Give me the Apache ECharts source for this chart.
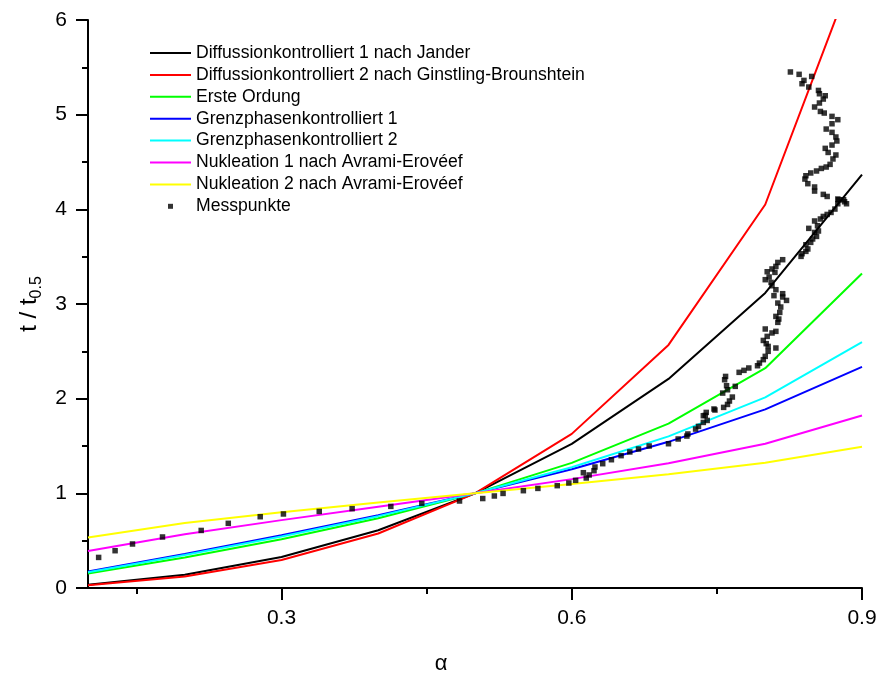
<!DOCTYPE html>
<html><head><meta charset="utf-8">
<script src="https://cdn.jsdelivr.net/npm/echarts@6/dist/echarts.min.js"></script>
<style>html,body{margin:0;padding:0;background:#fff}#c{width:877px;height:675px}</style>
</head><body><div id="c"></div>
<script>
const alphaGrid = [0.1, 0.2, 0.3, 0.4, 0.5, 0.6, 0.7, 0.8, 0.9];
const diff1Jander = [0.034, 0.140, 0.328, 0.610, 1.0, 1.522, 2.209, 3.117, 4.366];
const diff2Ginstling = [0.028, 0.121, 0.295, 0.576, 1.0, 1.628, 2.568, 4.051, 6.745];
const ersteOrdnung = [0.152, 0.322, 0.515, 0.737, 1.0, 1.322, 1.737, 2.322, 3.322];
const grenz1 = [0.175, 0.360, 0.558, 0.770, 1.0, 1.255, 1.544, 1.887, 2.335];
const grenz2 = [0.167, 0.348, 0.543, 0.759, 1.0, 1.276, 1.602, 2.013, 2.597];
const nukl1 = [0.390, 0.567, 0.717, 0.859, 1.0, 1.150, 1.318, 1.524, 1.823];
const nukl2 = [0.534, 0.686, 0.801, 0.903, 1.0, 1.098, 1.202, 1.324, 1.492];

const messAlpha = [0.111,0.128,0.146,0.177,0.217,0.245,0.278,0.302,0.339,0.373,0.413,0.445,0.484,0.508,0.520,0.529,0.550,0.565,0.585,0.597,0.604,0.615,0.618,0.612,0.623,0.624,
0.632,0.641,0.651,0.660,0.669,0.680,0.700,0.710,0.719,0.720,0.728,0.731,0.736,0.740,0.738,0.748,
0.736,0.739,0.747,0.757,0.761,0.763,0.766,0.756,0.761,0.760,0.769,0.758,0.759,0.773,0.778,0.783,0.792,0.794,0.798,0.800,0.803,0.803,0.811,0.801,0.798,0.802,0.807,0.811,0.800,0.813,0.814,
0.811,0.815,0.816,0.813,0.822,0.818,0.809,0.818,0.811,0.807,0.806,0.800,0.804,0.802,0.807,0.810,0.811,0.813,0.818,
0.837,0.838,0.842,0.844,0.842,0.847,0.849,0.853,0.851,0.855,0.845,0.854,0.851,0.857,0.860,0.864,0.868,0.872,0.875,0.884,0.881,0.875,0.864,0.860,0.851,0.876,0.882,
0.851,0.844,0.841,0.842,0.847,0.853,0.858,0.863,0.867,0.870,0.873,0.865,0.862,0.869,0.874,0.873,0.869,0.863,0.869,0.875,0.869,0.861,0.857,0.851,0.856,0.860,0.862,0.856,0.855,0.845,0.838,0.840,0.848,0.835,0.826];
const messT = [0.323,0.394,0.465,0.539,0.608,0.683,0.753,0.782,0.809,0.838,0.862,0.894,0.919,0.945,0.972,0.999,1.028,1.052,1.081,1.109,1.137,1.162,1.194,1.218,1.239,1.278,
1.313,1.355,1.398,1.437,1.468,1.500,1.524,1.574,1.605,1.627,1.679,1.707,1.749,1.770,1.823,1.880,
1.820,1.855,1.891,1.908,1.939,1.975,2.017,2.059,2.094,2.137,2.130,2.200,2.235,2.278,2.299,2.324,2.348,2.376,2.412,2.447,2.500,2.552,2.535,2.581,2.615,2.658,2.694,2.711,2.736,2.806,2.841,
2.869,2.911,2.968,3.010,3.038,3.074,3.088,3.109,3.151,3.193,3.228,3.257,3.285,3.341,3.370,3.334,3.397,3.439,3.468,
3.503,3.531,3.556,3.581,3.626,3.651,3.687,3.714,3.756,3.771,3.799,3.827,3.877,3.898,3.925,3.946,3.967,4.003,4.059,4.059,4.101,4.109,4.136,4.158,4.193,4.101,4.080,
4.236,4.271,4.320,4.355,4.384,4.405,4.432,4.447,4.475,4.532,4.574,4.601,4.644,4.679,4.722,4.764,4.813,4.848,4.904,4.947,4.982,5.017,5.034,5.081,5.123,5.165,5.200,5.221,5.256,5.292,5.327,5.362,5.404,5.426,5.451];

const xLabelValues = [0.3, 0.6, 0.9];
const xMinorTicks = [0.15, 0.45, 0.75];

const FONT = 'Liberation Sans, Arial, Helvetica, sans-serif';
const pair = (ys) => alphaGrid.map((a, i) => [a, ys[i]]);

const lineDefs = [
  ['Diffussionkontrolliert 1 nach Jander', diff1Jander, '#000000'],
  ['Diffussionkontrolliert 2 nach Ginstling-Brounshtein', diff2Ginstling, '#ff0000'],
  ['Erste Ordung', ersteOrdnung, '#00ff00'],
  ['Grenzphasenkontrolliert 1', grenz1, '#0000ff'],
  ['Grenzphasenkontrolliert 2', grenz2, '#00ffff'],
  ['Nukleation 1 nach Avrami-Erovéef', nukl1, '#ff00ff'],
  ['Nukleation 2 nach Avrami-Erovéef', nukl2, '#ffff00']
];

const series = lineDefs.map(([name, ys, color]) => ({
  name, type: 'line', data: pair(ys), symbol: 'none', showSymbol: false,
  lineStyle: { color, width: 2 }, itemStyle: { color }, clip: true, silent: true, animation: false
}));
series.push({
  name: 'Messpunkte', type: 'scatter', symbol: 'rect', symbolSize: 5.5,
  data: messAlpha.map((a, i) => [a, messT[i]]),
  itemStyle: { color: '#000000' }, animation: false, silent: true, z: 5
});

const LINE_ICON = 'path://M0,0 M41,14 M0,6 L41,6 L41,8 L0,8 Z';
const DOT_ICON = 'path://M0,0 M41,14 M18,4.5 L23,4.5 L23,9.5 L18,9.5 Z';

const chart = echarts.init(document.getElementById('c'), null, { renderer: 'canvas' });
chart.setOption({
  backgroundColor: '#ffffff',
  animation: false,
  textStyle: { fontFamily: FONT },
  grid: { left: 88, right: 15, top: 20, bottom: 87, containLabel: false, outerBoundsMode: 'none' },
  legend: {
    orient: 'vertical', left: 145, top: 39,
    itemWidth: 41, itemHeight: 14, itemGap: 3.9,
    textStyle: { fontFamily: FONT, fontSize: 17.6, color: '#000', lineHeight: 14 },
    data: lineDefs.map(d => ({ name: d[0], icon: LINE_ICON })).concat([{ name: 'Messpunkte', icon: DOT_ICON }]),
    selectedMode: false
  },
  xAxis: [{
    type: 'value', min: 0.1, max: 0.9, position: 'bottom',
    name: 'α', nameLocation: 'middle', nameGap: 65,
    nameTextStyle: { fontFamily: FONT, fontSize: 22, color: '#000', padding: [0, 68, 0, 0] },
    axisLine: { show: true, lineStyle: { color: '#000', width: 2 } },
    axisTick: { show: true, inside: false, length: 12, lineStyle: { color: '#000', width: 2 }, customValues: xLabelValues },
    axisLabel: { show: true, fontFamily: FONT, fontSize: 21, color: '#000', margin: 20, customValues: xLabelValues, formatter: v => v.toFixed(1) },
    splitLine: { show: false }
  }, {
    type: 'value', min: 0.1, max: 0.9, position: 'bottom', gridIndex: 0,
    axisLine: { show: false },
    axisTick: { show: true, inside: false, length: 6, lineStyle: { color: '#000', width: 2 }, customValues: xMinorTicks },
    axisLabel: { show: false },
    splitLine: { show: false }
  }],
  yAxis: {
    type: 'value', min: 0, max: 6, interval: 1,
    name: '{a|t / t}{b|0.5}', nameLocation: 'middle', nameGap: 36,
    nameTextStyle: {
      fontFamily: FONT, color: '#000',
      rich: {
        a: { fontFamily: FONT, fontSize: 24, lineHeight: 30, color: '#000' },
        b: { fontFamily: FONT, fontSize: 16, lineHeight: 15, verticalAlign: 'bottom', color: '#000' }
      }
    },
    axisLine: { show: true, lineStyle: { color: '#000', width: 2 } },
    axisTick: { show: true, inside: false, length: 12, lineStyle: { color: '#000', width: 2 } },
    minorTick: { show: true, splitNumber: 2, length: 6, lineStyle: { color: '#000', width: 2 } },
    axisLabel: { fontFamily: FONT, fontSize: 21, color: '#000', margin: 21 },
    splitLine: { show: false }, minorSplitLine: { show: false }
  },
  series
});
</script></body></html>
